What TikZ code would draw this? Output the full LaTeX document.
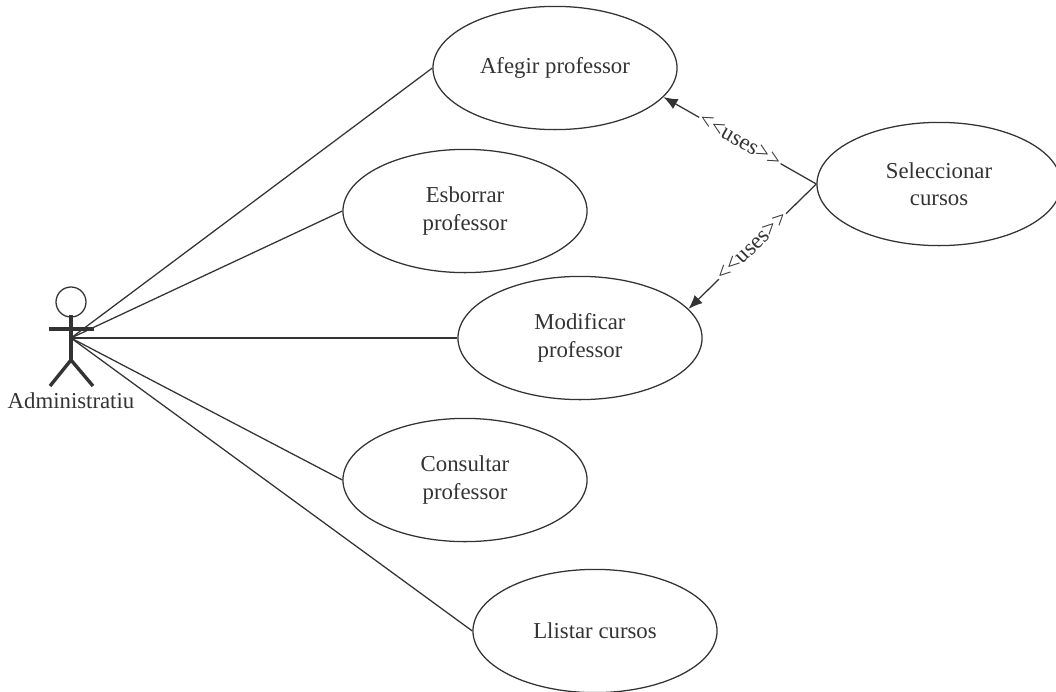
\documentclass[tikz,border=0pt]{standalone}
\usepackage{fontspec}
\setmainfont{Liberation Serif}
\usetikzlibrary{arrows.meta,shapes.geometric}
\definecolor{ink}{gray}{0.2}
\tikzset{
  usecase/.style={draw=ink,line width=0.9pt,ellipse,minimum width=3.05cm*2,minimum height=3.08cm,inner sep=0pt,align=center,text=ink,font=\fontsize{16.2}{19.6}\selectfont},
  link/.style={draw=ink,line width=0.9pt},
  uses/.style={draw=ink,line width=0.9pt,-{Latex[length=10pt,width=8pt]}},
  useslabel/.style={sloped,midway,fill=white,inner xsep=1pt,inner ysep=0pt,text=ink,font=\fontsize{16.2}{19.6}\selectfont},
  limb/.style={draw=ink,line width=2.4pt}
}
\begin{document}
\begin{tikzpicture}[x=0.025cm,y=-0.025cm]
    \useasboundingbox (0,0) rectangle (1056,691);

    \node[usecase] (afegir)      at (555,68)  {Afegir professor};
    \node[usecase] (esborrar)    at (465,211) {Esborrar\\professor};
    \node[usecase] (modificar)   at (580,338) {Modificar\\professor};
    \node[usecase] (consultar)   at (465,480) {Consultar\\professor};
    \node[usecase] (llistar)     at (595,631) {Llistar cursos};
    \node[usecase] (seleccionar) at (939,184) {Seleccionar\\cursos};

    % the actor
    \node[draw=ink,circle,line width=0.9pt,minimum size=0.75cm,inner sep=0pt] (head) at (71,302) {};
    \coordinate (neck)     at (71,315);
    \coordinate (hip)      at (71,360);
    \coordinate (armL)     at (49,329);
    \coordinate (armR)     at (94,329);
    \coordinate (legL)     at (50,386);
    \coordinate (legR)     at (93,386);
    \coordinate (actor)    at (71,338);
    \node[text=ink,font=\fontsize{16.2}{19.6}\selectfont] (admin) at (71,401) {Administratiu};

    \draw[limb] (neck) -- (hip);
    \draw[limb] (armL) -- (armR);
    \draw[limb] (legL) -- (hip) -- (legR);

    \draw[link] (actor) -- (afegir.west);
    \draw[link] (actor) -- (esborrar.west);
    \draw[link] (actor) -- (modificar.west);
    \draw[link] (actor) -- (consultar.west);
    \draw[link] (actor) -- (llistar.west);

    \draw[uses] (seleccionar.west) -- (afegir.-15) node[useslabel] {<{}<uses>{}>};
    \draw[uses] (seleccionar.west) -- (modificar.15) node[useslabel] {<{}<uses>{}>};
\end{tikzpicture}
\end{document}
